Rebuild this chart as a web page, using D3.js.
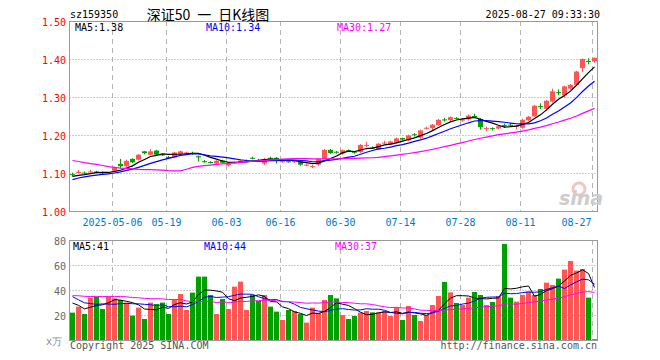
<!DOCTYPE html>
<html>
<head>
<meta charset="utf-8">
<script src="https://cdn.jsdelivr.net/npm/d3@7"></script>
<style>
	body { margin: 0; background: #fff; }
	text { font-family: "DejaVu Sans Mono", monospace; font-size: 10px; }
</style>
</head>
<body>
<div id="chart"></div>
<script>
// daily candles, 2025-04-22 .. 2025-08-27 (88 sessions)
const opens = [1.097, 1.102, 1.101, 1.103, 1.104, 1.102, 1.099, 1.106, 1.124, 1.118,
	1.137, 1.135, 1.157, 1.148, 1.159, 1.149, 1.142, 1.141, 1.150, 1.151,
	1.153, 1.144, 1.131, 1.129, 1.125, 1.133, 1.120, 1.126, 1.129, 1.132,
	1.140, 1.134, 1.125, 1.140, 1.140, 1.130, 1.131, 1.129, 1.131, 1.121,
	1.117, 1.122, 1.137, 1.161, 1.156, 1.151, 1.160, 1.156, 1.155, 1.173,
	1.167, 1.162, 1.179, 1.175, 1.180, 1.192, 1.186, 1.202, 1.193, 1.218,
	1.218, 1.226, 1.241, 1.239, 1.245, 1.238, 1.241, 1.250, 1.242, 1.217,
	1.218, 1.217, 1.226, 1.227, 1.222, 1.219, 1.239, 1.249, 1.276, 1.269,
	1.288, 1.313, 1.304, 1.322, 1.332, 1.376, 1.395, 1.394];
const closes = [1.095, 1.103, 1.100, 1.104, 1.103, 1.099, 1.101, 1.115, 1.118, 1.132,
	1.128, 1.148, 1.152, 1.157, 1.148, 1.147, 1.141, 1.154, 1.157, 1.154,
	1.152, 1.141, 1.130, 1.128, 1.132, 1.127, 1.124, 1.128, 1.133, 1.134,
	1.139, 1.133, 1.137, 1.139, 1.133, 1.131, 1.130, 1.131, 1.122, 1.122,
	1.118, 1.137, 1.161, 1.152, 1.155, 1.160, 1.159, 1.155, 1.174, 1.174,
	1.166, 1.177, 1.180, 1.183, 1.191, 1.188, 1.199, 1.201, 1.212, 1.219,
	1.227, 1.240, 1.240, 1.247, 1.243, 1.241, 1.251, 1.249, 1.221, 1.218,
	1.217, 1.223, 1.225, 1.226, 1.225, 1.240, 1.248, 1.277, 1.275, 1.290,
	1.315, 1.312, 1.328, 1.332, 1.367, 1.400, 1.394, 1.403];
const highs = [1.101, 1.108, 1.104, 1.108, 1.106, 1.104, 1.103, 1.117, 1.137, 1.135,
	1.139, 1.150, 1.158, 1.163, 1.161, 1.151, 1.145, 1.156, 1.159, 1.156,
	1.156, 1.146, 1.134, 1.131, 1.134, 1.135, 1.126, 1.130, 1.135, 1.136,
	1.143, 1.137, 1.140, 1.143, 1.142, 1.133, 1.133, 1.133, 1.133, 1.125,
	1.121, 1.139, 1.163, 1.163, 1.158, 1.162, 1.162, 1.158, 1.176, 1.182,
	1.170, 1.179, 1.185, 1.185, 1.193, 1.193, 1.201, 1.205, 1.214, 1.222,
	1.229, 1.242, 1.245, 1.249, 1.247, 1.244, 1.254, 1.256, 1.245, 1.222,
	1.220, 1.225, 1.230, 1.231, 1.227, 1.243, 1.250, 1.279, 1.283, 1.292,
	1.322, 1.320, 1.330, 1.334, 1.369, 1.401, 1.402, 1.404];
const lows = [1.091, 1.099, 1.097, 1.100, 1.100, 1.097, 1.097, 1.104, 1.111, 1.116,
	1.126, 1.133, 1.149, 1.146, 1.146, 1.145, 1.137, 1.139, 1.148, 1.149,
	1.148, 1.130, 1.127, 1.125, 1.122, 1.125, 1.117, 1.124, 1.127, 1.130,
	1.136, 1.130, 1.121, 1.136, 1.125, 1.127, 1.127, 1.127, 1.119, 1.118,
	1.113, 1.119, 1.136, 1.150, 1.151, 1.148, 1.156, 1.151, 1.153, 1.168,
	1.163, 1.160, 1.176, 1.173, 1.178, 1.186, 1.184, 1.196, 1.190, 1.215,
	1.213, 1.224, 1.235, 1.236, 1.241, 1.235, 1.238, 1.245, 1.214, 1.210,
	1.212, 1.215, 1.219, 1.222, 1.215, 1.217, 1.237, 1.248, 1.268, 1.264,
	1.285, 1.305, 1.298, 1.319, 1.329, 1.366, 1.386, 1.390];
// volume, 万手
const volumes = [21.9, 26.7, 20.8, 33.9, 34.7, 24.8, 34.7, 33.3, 32.0, 29.9,
	19.5, 25.9, 16.8, 29.9, 28.8, 29.9, 20.8, 32.5, 36.8, 24.0,
	37.9, 50.7, 50.7, 36.0, 20.8, 32.8, 24.8, 42.7, 46.7, 24.0,
	36.0, 31.2, 36.0, 26.7, 22.7, 16.0, 24.0, 23.2, 20.8, 13.9,
	25.9, 21.9, 32.0, 36.0, 33.3, 20.0, 16.8, 19.2, 21.9, 23.2,
	22.1, 22.1, 23.2, 19.2, 26.1, 16.0, 27.2, 20.0, 15.2, 20.0,
	28.0, 35.2, 46.4, 38.1, 29.6, 28.0, 33.9, 38.4, 36.0, 28.0,
	30.4, 35.2, 76.8, 33.9, 30.7, 36.0, 38.7, 36.0, 40.8, 45.9,
	44.0, 49.1, 56.3, 63.2, 55.5, 56.8, 33.9, 0.8];
// sessions before the window (only feed the moving averages), guessed from the MA curves
const earlierCloses = [1.18, 1.19, 1.18, 1.17, 1.18, 1.19, 1.18, 1.17, 1.16, 1.17,
	1.18, 1.17, 1.16, 1.17, 1.17, 1.18, 1.17, 1.16, 1.02, 1.01,
	1.06, 1.07, 1.08, 1.08, 1.08, 1.09, 1.09, 1.09, 1.09];
const earlierVolumes = [30, 34, 38, 32, 29, 36, 33, 31, 35, 40,
	28, 33, 37, 30, 34, 36, 32, 35, 60, 55,
	52, 45, 40, 41, 21, 36, 35, 27, 28];

const priceTicks = [1.0, 1.1, 1.2, 1.3, 1.4, 1.5];
const volTicks = [20, 40, 60, 80];
const dateLabels = ["2025-05-06", "05-19", "06-03", "06-16", "06-30", "07-14", "07-28", "08-11", "08-27"];
const dateIndex = [7, 16, 26, 35, 45, 55, 65, 75, 87];
const maDays = [5, 10, 30];
const priceMaText = ["MA5:1.38", "MA10:1.34", "MA30:1.27"];
const volMaText = ["MA5:41", "MA10:44", "MA30:37"];

const maColors = ["#000000", "#0000ff", "#ff00ff"];
const up = "#ff5555", down = "#00a000";

const left = 69.5, right = 597.5;
const priceTop = 21, priceBottom = 211;
const volTop = 240, volBottom = 340;

const svg = d3.select("#chart").append("svg").attr("width", 660).attr("height", 360);

// scales
const x = d3.scaleBand().domain(d3.range(closes.length)).range([left, right]);
const y = d3.scaleLinear().domain([1.0, 1.5]).range([priceBottom, priceTop]);
const yv = d3.scaleLinear().domain([0, 80]).range([volBottom, volTop]);
const mid = (i) => x(i) + x.bandwidth() / 2;
const color = (i) => (closes[i] >= opens[i] ? up : down);

function movingAverage(earlier, values, n) {
	const all = earlier.concat(values);
	return values.map((v, i) => d3.mean(all.slice(earlier.length + i - n + 1, earlier.length + i + 1)));
}

// grid: dashed verticals on the date ticks, dotted horizontals
[[priceTop, priceBottom], [volTop, volBottom]].forEach(([t, b]) => {
	svg.append("g").selectAll("line").data(dateIndex).join("line")
		.attr("x1", (d) => x(d) + 1).attr("x2", (d) => x(d) + 1)
		.attr("y1", t).attr("y2", b)
		.attr("stroke", "#b4b4b4").attr("stroke-dasharray", "5,4");
});
svg.append("g").selectAll("line").data(priceTicks.slice(1, -1)).join("line")
	.attr("x1", left).attr("x2", right)
	.attr("y1", (d) => Math.round(y(d)) + 0.5).attr("y2", (d) => Math.round(y(d)) + 0.5)
	.attr("stroke", "#999").attr("stroke-dasharray", "1,2");
svg.append("g").selectAll("line").data(volTicks.slice(0, -1)).join("line")
	.attr("x1", left).attr("x2", right)
	.attr("y1", (d) => Math.round(yv(d)) + 0.5).attr("y2", (d) => Math.round(yv(d)) + 0.5)
	.attr("stroke", "#999").attr("stroke-dasharray", "1,2");

// frames
[[priceTop, priceBottom], [volTop, volBottom]].forEach(([t, b]) => {
	svg.append("rect").attr("x", left).attr("y", t + 0.5).attr("width", right - left).attr("height", b - t)
		.attr("fill", "none").attr("stroke", "#999");
});

// watermark
svg.append("circle").attr("cx", 579).attr("cy", 189).attr("r", 6).attr("fill", "none").attr("stroke", "#f3c4c4").attr("stroke-width", 3);
svg.append("text").attr("x", 581).attr("y", 205).attr("text-anchor", "middle")
	.style("font-family", "DejaVu Sans").style("font-size", "19px").style("font-weight", "bold").style("font-style", "italic")
	.attr("fill", "#cccccc").text("sina");

// candles
const candles = svg.append("g").selectAll("g").data(d3.range(closes.length)).join("g");
candles.append("line")
	.attr("x1", mid).attr("x2", mid)
	.attr("y1", (i) => y(highs[i])).attr("y2", (i) => y(lows[i]))
	.attr("stroke", color);
candles.append("rect")
	.attr("x", (i) => x(i) + 0.5).attr("width", 5)
	.attr("y", (i) => y(Math.max(opens[i], closes[i])))
	.attr("height", (i) => Math.max(1, Math.abs(y(opens[i]) - y(closes[i]))))
	.attr("fill", color);

// volume bars
svg.append("g").selectAll("rect").data(volumes).join("rect")
	.attr("x", (d, i) => x(i) + 0.5).attr("width", 5)
	.attr("y", (d) => yv(d)).attr("height", (d) => volBottom - yv(d))
	.attr("fill", (d, i) => color(i));

// moving averages
maDays.forEach((n, k) => {
	const pm = movingAverage(earlierCloses, closes, n);
	svg.append("path").datum(pm)
		.attr("d", d3.line().x((d, i) => mid(i)).y((d) => y(d)))
		.attr("fill", "none").attr("stroke", maColors[k]).attr("stroke-width", 1.2);
	const vm = movingAverage(earlierVolumes, volumes, n);
	svg.append("path").datum(vm)
		.attr("d", d3.line().x((d, i) => mid(i)).y((d) => yv(d)))
		.attr("fill", "none").attr("stroke", maColors[k]).attr("stroke-width", 1);
});

// axis labels
svg.append("g").selectAll("text").data(priceTicks).join("text")
	.attr("x", 66).attr("y", (d) => y(d) + 4.5).attr("text-anchor", "end")
	.attr("fill", "#ff0000").text((d) => d.toFixed(2));
svg.append("g").selectAll("text").data(volTicks).join("text")
	.attr("x", 66).attr("y", (d) => yv(d) + 4.5).attr("text-anchor", "end")
	.attr("fill", "#666").text((d) => d);
svg.append("text").attr("x", 62).attr("y", 345).attr("text-anchor", "end").attr("fill", "#888").text("x万");
svg.append("g").selectAll("text").data(dateIndex).join("text")
	.attr("x", (d, i) => (i === dateIndex.length - 1 ? x(d) : x(d) + 1))
	.attr("y", 225.5)
	.attr("text-anchor", (d, i) => (i === dateIndex.length - 1 ? "end" : "middle"))
	.attr("fill", "#0077cc").text((d, i) => dateLabels[i]);

// MA legends
const maX = [75, 206, 337];
priceMaText.forEach((t, k) => svg.append("text").attr("x", maX[k]).attr("y", 31).attr("fill", maColors[k]).text(t));
volMaText.forEach((t, k) => svg.append("text").attr("x", maX[k] - 2).attr("y", 250).attr("fill", maColors[k]).text(t));

// header and footer
svg.append("text").attr("x", 70).attr("y", 18).text("sz159350");
svg.append("text").attr("x", 208).attr("y", 19.5).attr("text-anchor", "middle")
	.style("font-family", "'Noto Sans CJK SC'").style("font-size", "14px").text("深证50\u2002一\u2002日K线图");
svg.append("text").attr("x", 600).attr("y", 18).attr("text-anchor", "end").text("2025-08-27 09:33:30");
svg.append("text").attr("x", 70).attr("y", 349).attr("fill", "#555").text("Copyright 2025 SINA.COM");
svg.append("text").attr("x", 597).attr("y", 349).attr("text-anchor", "end").attr("fill", "#555").text("http://finance.sina.com.cn");
</script>
</body>
</html>
